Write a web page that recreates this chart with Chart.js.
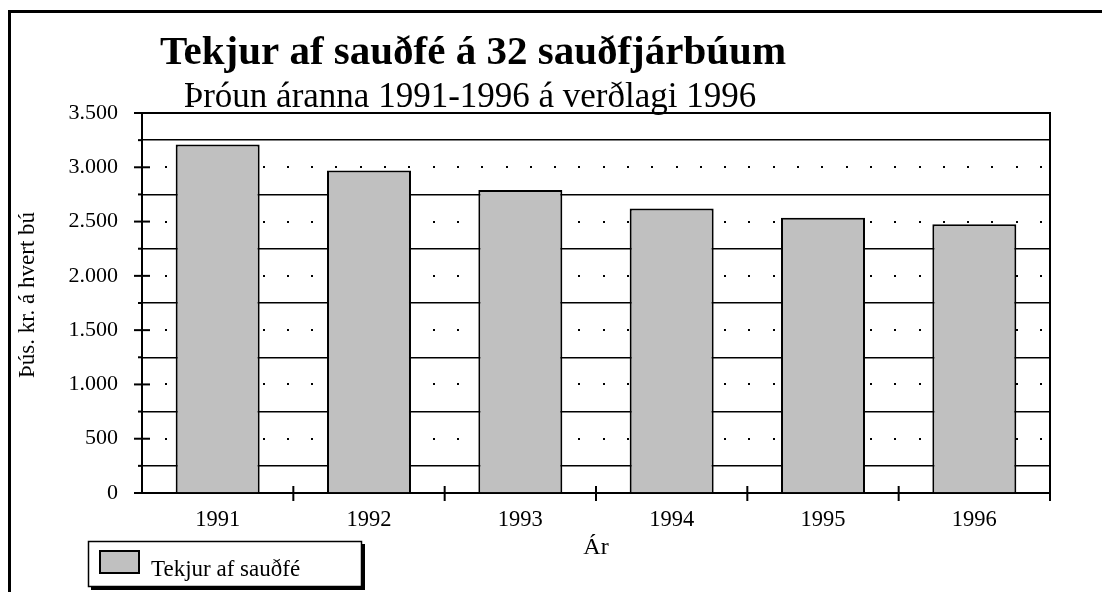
<!DOCTYPE html>
<html>
<head>
<meta charset="utf-8">
<script src="https://cdn.jsdelivr.net/npm/chart.js@4.4.0/dist/chart.umd.min.js"></script>
<style>
  html, body { margin: 0; padding: 0; background: #fff; overflow: hidden; }
  canvas { display: block; }
</style>
</head>
<body>
<canvas id="chart" width="1102" height="592"></canvas>
<script>
// ===== Data =====
const years = ['1991', '1992', '1993', '1994', '1995', '1996'];
const income = [3210, 2970, 2790, 2620, 2535, 2475];
const chartTitle = 'Tekjur af sauðfé á 32 sauðfjárbúum';
const chartSubtitle = 'Þróun áranna 1991-1996 á verðlagi 1996';
const yTitle = 'Þús. kr. á hvert bú';
const xTitle = 'Ár';
const seriesName = 'Tekjur af sauðfé';

const SERIF = "'Liberation Serif', 'Times New Roman', serif";
const fmt = v => String(v).replace(/\B(?=(\d{3})+(?!\d))/g, '.');

// extra drawing: dotted major lines, tick marks, frame, titles, legend
const decor = {
    id: 'decor',
    beforeDatasetsDraw(chart) {
        const { ctx, chartArea: a, scales: { y } } = chart;
        ctx.save();
        ctx.fillStyle = '#000';
        for (let v = 500; v < 3500; v += 500) {
            const py = Math.round(y.getPixelForValue(v));
            for (let px = a.left + 24.3; px < a.right - 4; px += 24.3) {
                ctx.fillRect(Math.round(px) - 1, py - 1, 2, 2);
            }
        }
        ctx.restore();
    },
    afterDraw(chart) {
        const { ctx, chartArea: a, scales: { x, y } } = chart;
        ctx.save();
        ctx.strokeStyle = '#000';
        ctx.fillStyle = '#000';
        // plot frame (top + right)
        ctx.lineWidth = 2;
        ctx.beginPath();
        ctx.moveTo(a.left, a.top); ctx.lineTo(a.right, a.top); ctx.lineTo(a.right, a.bottom);
        ctx.stroke();
        // y ticks
        for (let v = 0; v <= 3500; v += 250) {
            const py = y.getPixelForValue(v);
            ctx.beginPath();
            if (v % 500 === 0) { ctx.moveTo(a.left - 8, py); ctx.lineTo(a.left + 8, py); }
            else { ctx.moveTo(a.left - 4, py); ctx.lineTo(a.left, py); }
            ctx.stroke();
        }
        // x ticks at category boundaries
        const step = (a.right - a.left) / years.length;
        for (let i = 1; i <= years.length; i++) {
            const px = a.left + step * i;
            ctx.beginPath(); ctx.moveTo(px, a.bottom - 7); ctx.lineTo(px, a.bottom + 8); ctx.stroke();
        }
        // titles
        ctx.textAlign = 'center';
        ctx.textBaseline = 'alphabetic';
        ctx.font = 'bold 41px ' + SERIF;
        ctx.fillText(chartTitle, 473, 64);
        ctx.font = '35px ' + SERIF;
        ctx.fillText(chartSubtitle, 470, 107);
        // y title
        ctx.save();
        ctx.translate(28, 295);
        ctx.rotate(-Math.PI / 2);
        ctx.font = '23px ' + SERIF;
        ctx.textBaseline = 'middle';
        ctx.fillText(yTitle, 0, 0);
        ctx.restore();
        // legend with shadow
        const ds = chart.data.datasets[0];
        ctx.fillRect(91, 544, 274, 46);
        ctx.fillStyle = '#fff';
        ctx.fillRect(88, 541, 274, 46);
        ctx.lineWidth = 1.5;
        ctx.strokeRect(88.5, 541.5, 273, 45);
        ctx.fillStyle = ds.backgroundColor;
        ctx.fillRect(100, 551, 39, 22);
        ctx.lineWidth = 2;
        ctx.strokeRect(100, 551, 39, 22);
        ctx.fillStyle = '#000';
        ctx.textAlign = 'left';
        ctx.font = '23px ' + SERIF;
        ctx.fillText(ds.label, 151, 576);
        // outer frame
        ctx.fillRect(8, 10, 1094, 3);
        ctx.fillRect(8, 10, 3, 582);
        ctx.restore();
    }
};

new Chart(document.getElementById('chart'), {
    type: 'bar',
    data: {
        labels: years,
        datasets: [{
            label: seriesName,
            data: income,
            backgroundColor: '#c0c0c0',
            borderColor: '#000',
            borderWidth: 2,
            categoryPercentage: 1,
            barPercentage: 0.555
        }]
    },
    options: {
        responsive: false,
        devicePixelRatio: 1,
        animation: false,
        layout: { padding: { top: 113, right: 52, left: 0, bottom: 0 } },
        plugins: { legend: { display: false }, title: { display: false }, tooltip: { enabled: false } },
        scales: {
            x: {
                grid: { display: false },
                border: { display: true, color: '#000', width: 2 },
                ticks: { color: '#000', padding: 6, font: { family: SERIF, size: 22.5 } },
                title: { display: true, text: xTitle, color: '#000', padding: { top: 0, bottom: 30 }, font: { family: SERIF, size: 24 } },
                afterFit(scale) { scale.height = 99; }
            },
            y: {
                min: 0, max: 3500,
                ticks: {
                    stepSize: 250, autoSkip: false, color: '#000', padding: 24,
                    font: { family: SERIF, size: 22 },
                    callback: v => (v % 500 === 0 ? fmt(v) : '')
                },
                grid: {
                    drawTicks: false,
                    lineWidth: 1.5,
                    color: c => (c.tick && c.tick.value % 500 !== 0 ? '#000' : 'rgba(0,0,0,0)')
                },
                border: { display: true, color: '#000', width: 2 },
                afterFit(scale) { scale.width = 142; }
            }
        }
    },
    plugins: [decor]
});
</script>
</body>
</html>
